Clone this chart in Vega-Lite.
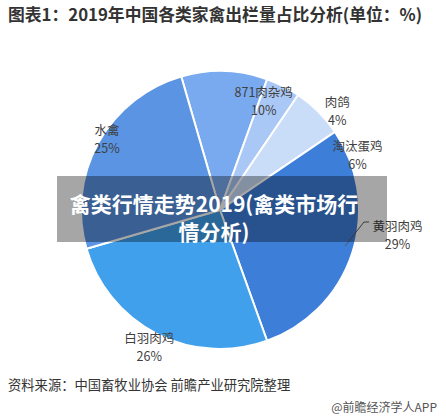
{
  "$schema": "https://vega.github.io/schema/vega-lite/v6.json",
  "width": 440,
  "height": 420,
  "padding": 0,
  "autosize": {"type": "none"},
  "background": "white",
  "config": {"view": {"stroke": null}},
  "title": {
    "text": "图表1：2019年中国各类家禽出栏量占比分析(单位：%)",
    "anchor": "start",
    "frame": "group",
    "font": "Noto Sans CJK SC",
    "fontSize": 16.8,
    "fontWeight": "bold",
    "color": "#333333",
    "baseline": "middle",
    "offset": 0,
    "dx": 8,
    "dy": 40
  },
  "layer": [
    {
      "data": {"name": "main", "values": [
        {"idx": 1, "name": "871肉杂鸡", "value": 10},
        {"idx": 2, "name": "肉鸽", "value": 4},
        {"idx": 3, "name": "淘汰蛋鸡", "value": 6},
        {"idx": 4, "name": "黄羽肉鸡", "value": 29},
        {"idx": 5, "name": "白羽肉鸡", "value": 26},
        {"idx": 6, "name": "水禽", "value": 25}
      ]},
      "transform": [{"calculate": "[datum.name, datum.value + '%']", "as": "label"}],
      "encoding": {
        "theta": {"field": "value", "type": "quantitative", "stack": true, "scale": {"range": [-0.2827, 6.0005]}},
        "order": {"field": "idx", "type": "quantitative"}
      },
      "layer": [
        {
          "mark": {"type": "arc", "outerRadius": 139, "stroke": "white", "strokeWidth": 2},
          "encoding": {
            "color": {"field": "name", "type": "nominal", "legend": null,
              "scale": {"domain": ["871肉杂鸡", "肉鸽", "淘汰蛋鸡", "黄羽肉鸡", "白羽肉鸡", "水禽"],
                        "range": ["#79a9ee", "#aac8f5", "#c9ddf8", "#3d7ed9", "#41a0ec", "#5a94e2"]}}
          }
        },
        {
          "mark": {"type": "text", "radius": 118, "dx": 40, "dy": 1, "font": "Noto Sans CJK SC", "fontSize": 12.5, "lineHeight": 18, "fill": "#404040", "baseline": "middle"},
          "encoding": {"detail": {"field": "name"}, "text": {"condition": {"test": "datum.name === '871肉杂鸡'", "field": "label"}, "value": ""}}
        },
        {
          "mark": {"type": "text", "radius": 148, "dx": 50, "dy": 25, "font": "Noto Sans CJK SC", "fontSize": 12.5, "lineHeight": 18, "fill": "#404040", "baseline": "middle"},
          "encoding": {"detail": {"field": "name"}, "text": {"condition": {"test": "datum.name === '肉鸽'", "field": "label"}, "value": ""}}
        },
        {
          "mark": {"type": "text", "radius": 142, "dx": 37, "dy": 37, "font": "Noto Sans CJK SC", "fontSize": 12.5, "lineHeight": 18, "fill": "#404040", "baseline": "middle"},
          "encoding": {"detail": {"field": "name"}, "text": {"condition": {"test": "datum.name === '淘汰蛋鸡'", "field": "label"}, "value": ""}}
        },
        {
          "mark": {"type": "text", "radius": 174, "dx": 12, "dy": -37, "font": "Noto Sans CJK SC", "fontSize": 12.5, "lineHeight": 18, "fill": "#404040", "baseline": "middle"},
          "encoding": {"detail": {"field": "name"}, "text": {"condition": {"test": "datum.name === '黄羽肉鸡'", "field": "label"}, "value": ""}}
        },
        {
          "mark": {"type": "text", "radius": 147, "dx": -4, "dy": -2, "font": "Noto Sans CJK SC", "fontSize": 12.5, "lineHeight": 18, "fill": "#404040", "baseline": "middle"},
          "encoding": {"detail": {"field": "name"}, "text": {"condition": {"test": "datum.name === '白羽肉鸡'", "field": "label"}, "value": ""}}
        },
        {
          "mark": {"type": "text", "radius": 137, "dx": 7, "dy": -13, "font": "Noto Sans CJK SC", "fontSize": 12.5, "lineHeight": 18, "fill": "#404040", "baseline": "middle"},
          "encoding": {"detail": {"field": "name"}, "text": {"condition": {"test": "datum.name === '水禽'", "field": "label"}, "value": ""}}
        }
      ]
    },
    {
      "data": {"values": [{"id": "leader"}]},
      "mark": {"type": "rule", "stroke": "#595959", "strokeWidth": 1},
      "encoding": {"x": {"value": 345}, "y": {"value": 246}, "x2": {"value": 364}, "y2": {"value": 222}}
    },
    {
      "data": {"values": [{"id": "leader2"}]},
      "mark": {"type": "rule", "stroke": "#595959", "strokeWidth": 1},
      "encoding": {"x": {"value": 364}, "y": {"value": 222}, "x2": {"value": 369}, "y2": {"value": 222}}
    },
    {
      "data": {"values": [{"id": "banner"}]},
      "mark": {"type": "rect", "fill": "#000000", "fillOpacity": 0.35},
      "encoding": {"x": {"value": 57}, "x2": {"value": 387}, "y": {"value": 176}, "y2": {"value": 242}}
    },
    {
      "data": {"values": [{"id": "bannertext"}]},
      "mark": {"type": "text", "text": ["禽类行情走势2019(禽类市场行", "情分析)"], "font": "Noto Sans CJK SC", "fontSize": 21, "fontWeight": "bold", "fill": "white", "align": "center", "baseline": "middle", "lineHeight": 28},
      "encoding": {"x": {"value": 214}, "y": {"value": 206}}
    },
    {
      "data": {"values": [{"id": "source"}]},
      "mark": {"type": "text", "text": "资料来源：中国畜牧业协会 前瞻产业研究院整理", "font": "Noto Sans CJK SC", "fontSize": 13.3, "fill": "#333333", "align": "left", "baseline": "middle"},
      "encoding": {"x": {"value": 8}, "y": {"value": 386}}
    },
    {
      "data": {"values": [{"id": "mark"}]},
      "mark": {"type": "text", "text": "@前瞻经济学人APP", "font": "Noto Sans CJK SC", "fontSize": 12, "fill": "#555555", "align": "right", "baseline": "middle"},
      "encoding": {"x": {"value": 437}, "y": {"value": 408}}
    }
  ]
}
